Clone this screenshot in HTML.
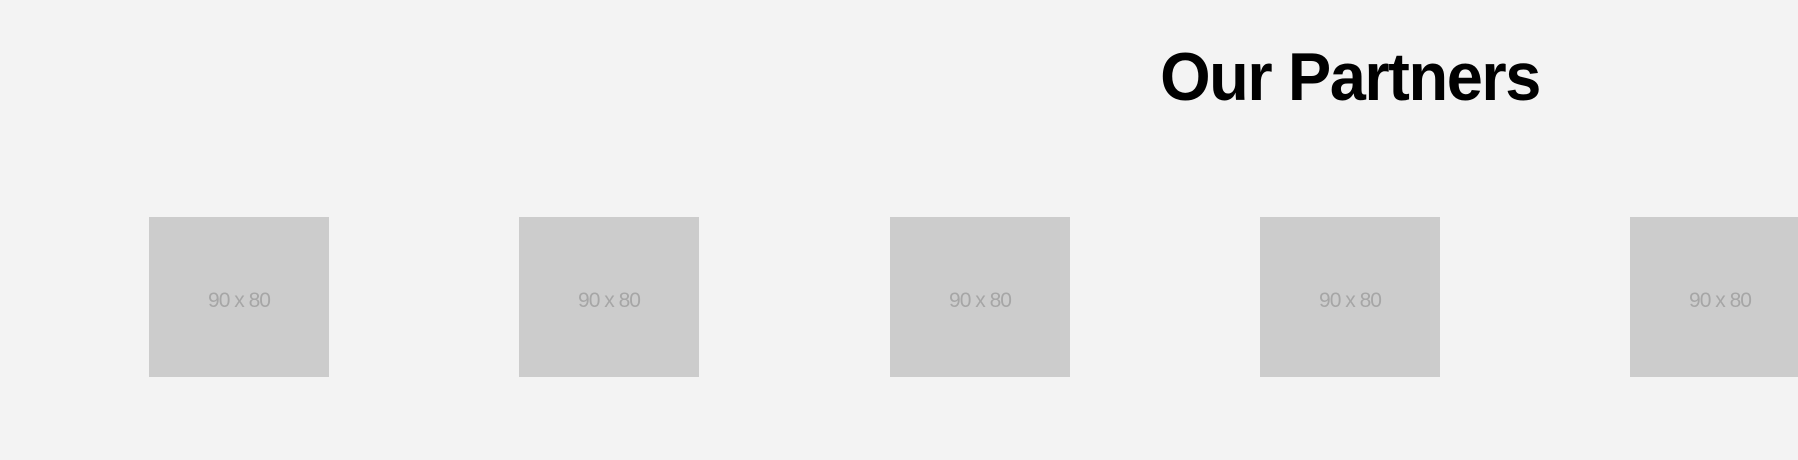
<!DOCTYPE html>
<html>
<head>
<meta charset="utf-8">
<style>
html,body{margin:0;padding:0;}
body{width:1798px;height:460px;background:#f3f3f3;position:relative;overflow:hidden;font-family:"Liberation Sans",sans-serif;}
.title{position:absolute;left:1350px;top:32px;transform:translateX(-50%) scaleX(0.955);font-size:68px;font-weight:bold;color:#000;white-space:nowrap;line-height:90px;letter-spacing:-1.5px;}
.logo{position:absolute;top:217px;width:180px;height:160px;background:#cccccc;color:#a6a6a6;font-size:21px;display:flex;align-items:center;justify-content:center;letter-spacing:-1px;box-sizing:border-box;padding-top:8px;}
</style>
</head>
<body>
<div class="title">Our Partners</div>
<div class="logo" style="left:149px">90 x 80</div>
<div class="logo" style="left:519px">90 x 80</div>
<div class="logo" style="left:890px">90 x 80</div>
<div class="logo" style="left:1260px">90 x 80</div>
<div class="logo" style="left:1630px">90 x 80</div>
</body>
</html>
